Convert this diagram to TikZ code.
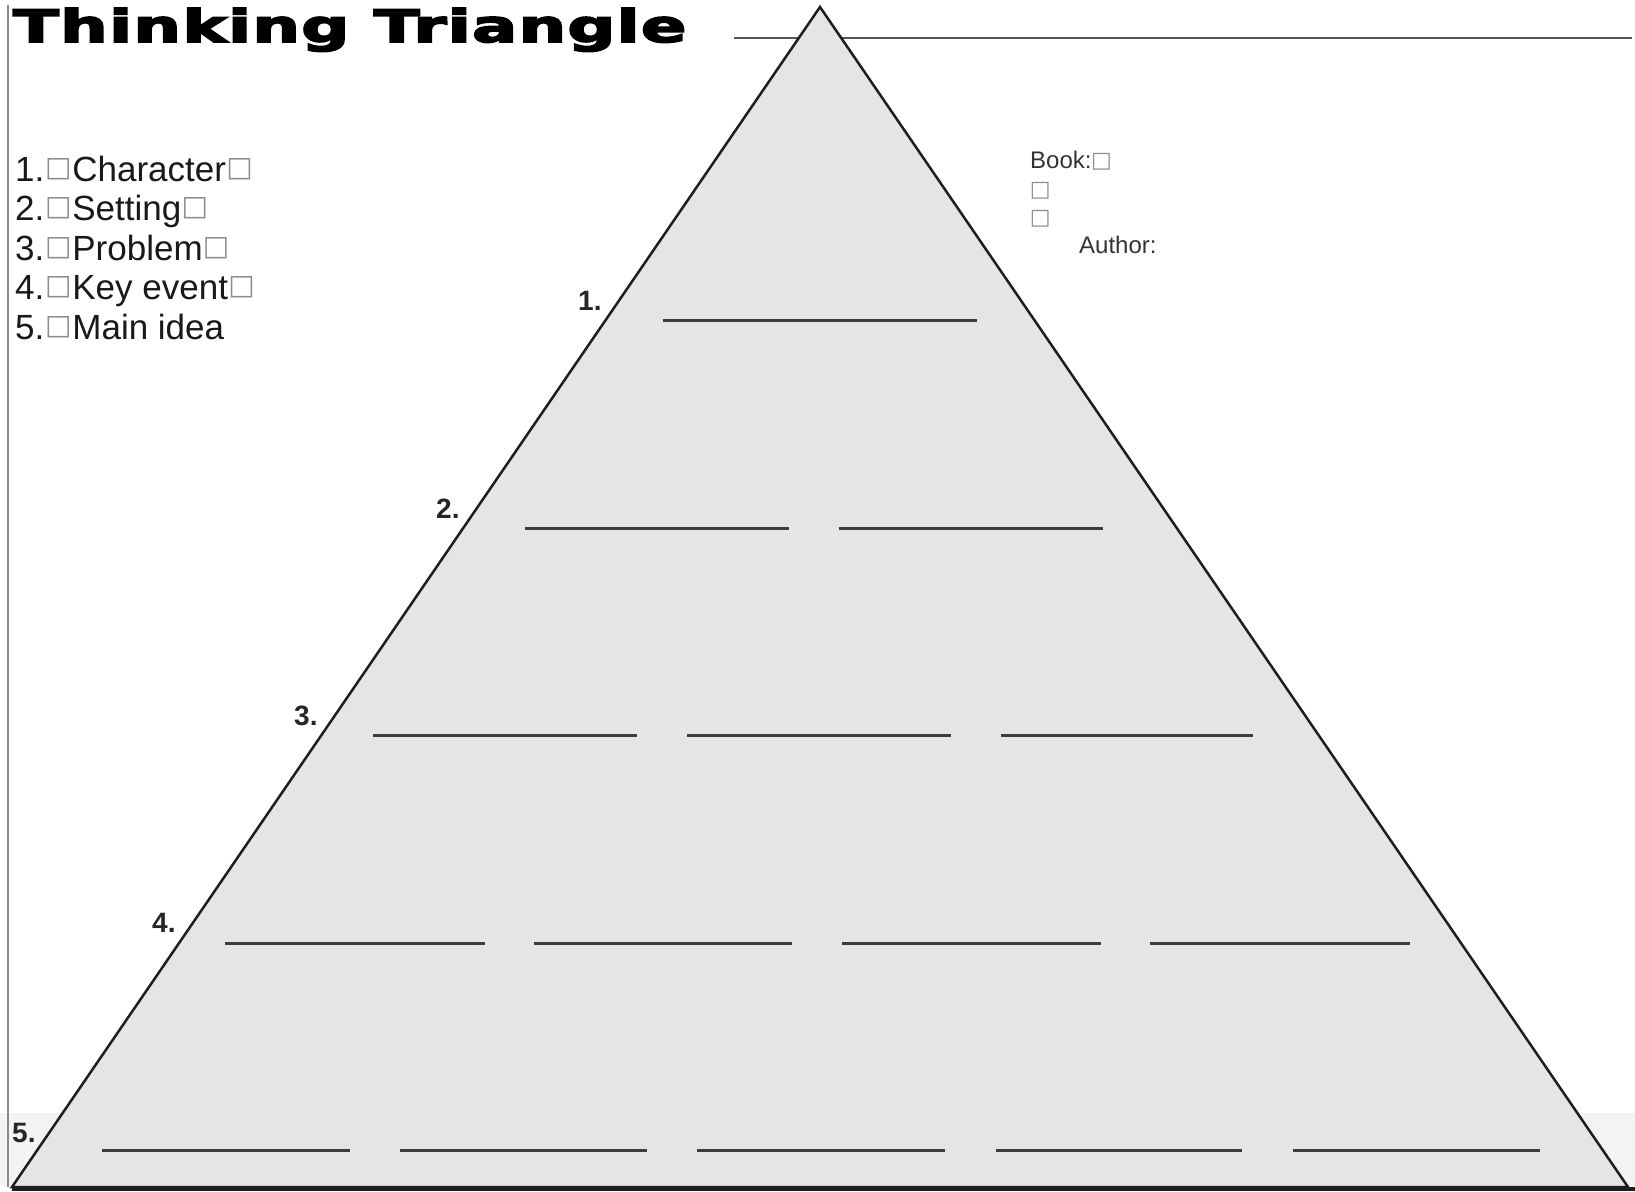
\documentclass[tikz,border=0pt]{standalone}
\usepackage{fontspec}
\setmainfont{Liberation Sans}
\newfontfamily\titlefont[LetterSpace=2,FakeBold=3.5]{DejaVu Sans}
\newfontfamily\symfont{DejaVu Sans}
\definecolor{trifill}{HTML}{E5E5E5}
\definecolor{blankgray}{HTML}{3C3C3C}
\definecolor{edgegray}{HTML}{1E1E1E}
\definecolor{framegray}{HTML}{8A8A8A}
\definecolor{boxgray}{HTML}{8C8C8C}
\definecolor{booktext}{HTML}{333333}
\definecolor{topline}{HTML}{555555}
\definecolor{bandgray}{HTML}{F3F3F3}
% #1 font size, #2 box width, #3 raise
\newcommand{\gb}[3]{\makebox[#2][c]{\raisebox{#3}{\symfont\color{boxgray}\fontsize{#1}{#1}\selectfont □}}}
\tikzset{
  blank/.style={draw=blankgray, line width=3pt},
  legend/.style={anchor=base west, inner sep=0pt, text=black!90, font=\fontsize{35}{39}\selectfont},
  num/.style={anchor=base west, inner sep=0pt, text=black!85, font=\fontsize{28}{28}\selectfont\bfseries},
  booklbl/.style={anchor=base west, inner sep=0pt, text=booktext, font=\fontsize{24}{24}\selectfont},
}
\begin{document}
\begin{tikzpicture}[x=1pt,y=-1pt]
\useasboundingbox (0,0) rectangle (1635,1191);
% background band at bottom
\fill[bandgray] (0,1113) rectangle (1635,1186);
% frame lines
\draw[framegray, line width=2pt] (8,5) -- (8,1187);
\draw[topline, line width=2pt] (734,38) -- (1632,38);
% triangle
\coordinate (apex) at (820,7);
\coordinate (bl) at (12,1187);
\coordinate (br) at (1628,1187);
\filldraw[fill=trifill, draw=edgegray, line width=2.5pt, line join=miter] (apex) -- (bl) -- (br) -- cycle;
\draw[edgegray, line width=4pt] (12,1188.5) -- (1635,1188.5);
% title
\node[anchor=base west, inner sep=0pt] (title) at (13,42)
  {\resizebox{673pt}{34pt}{\titlefont\bfseries Thinking Triangle}};
% legend
\node[legend] (l1) at (15,181) {1.\gb{28}{28pt}{5pt}Character\gb{28}{27pt}{5pt}};
\node[legend] (l2) at (15,220.5) {2.\gb{28}{28pt}{5pt}Setting\gb{28}{27pt}{5pt}};
\node[legend] (l3) at (15,260) {3.\gb{28}{28pt}{5pt}Problem\gb{28}{27pt}{5pt}};
\node[legend] (l4) at (15,299.5) {4.\gb{28}{28pt}{5pt}Key event\gb{28}{27pt}{5pt}};
\node[legend] (l5) at (15,339) {5.\gb{28}{28pt}{5pt}Main idea};
% book / author
\node[booklbl] (book) at (1030,168) {Book:\gb{22}{20pt}{1pt}};
\node[booklbl] (b2) at (1032,197) {\gb{22}{16pt}{1pt}};
\node[booklbl] (b3) at (1032,225) {\gb{22}{16pt}{1pt}};
\node[booklbl] (author) at (1079,253) {Author:};
% level numbers
\node[num] (n1) at (578,310) {1.};
\node[num] (n2) at (436,518) {2.};
\node[num] (n3) at (294,725) {3.};
\node[num] (n4) at (152,932) {4.};
\node[num] (n5) at (12,1142) {5.};
% blanks
\draw[blank] (663,320) -- (977,320);
\draw[blank] (525,528) -- (789,528);
\draw[blank] (839,528) -- (1103,528);
\draw[blank] (373,735) -- (637,735);
\draw[blank] (687,735) -- (951,735);
\draw[blank] (1001,735) -- (1253,735);
\draw[blank] (225,943) -- (485,943);
\draw[blank] (534,943) -- (792,943);
\draw[blank] (842,943) -- (1101,943);
\draw[blank] (1150,943) -- (1410,943);
\draw[blank] (102,1150) -- (350,1150);
\draw[blank] (400,1150) -- (647,1150);
\draw[blank] (697,1150) -- (945,1150);
\draw[blank] (996,1150) -- (1242,1150);
\draw[blank] (1293,1150) -- (1540,1150);
\end{tikzpicture}
\end{document}
